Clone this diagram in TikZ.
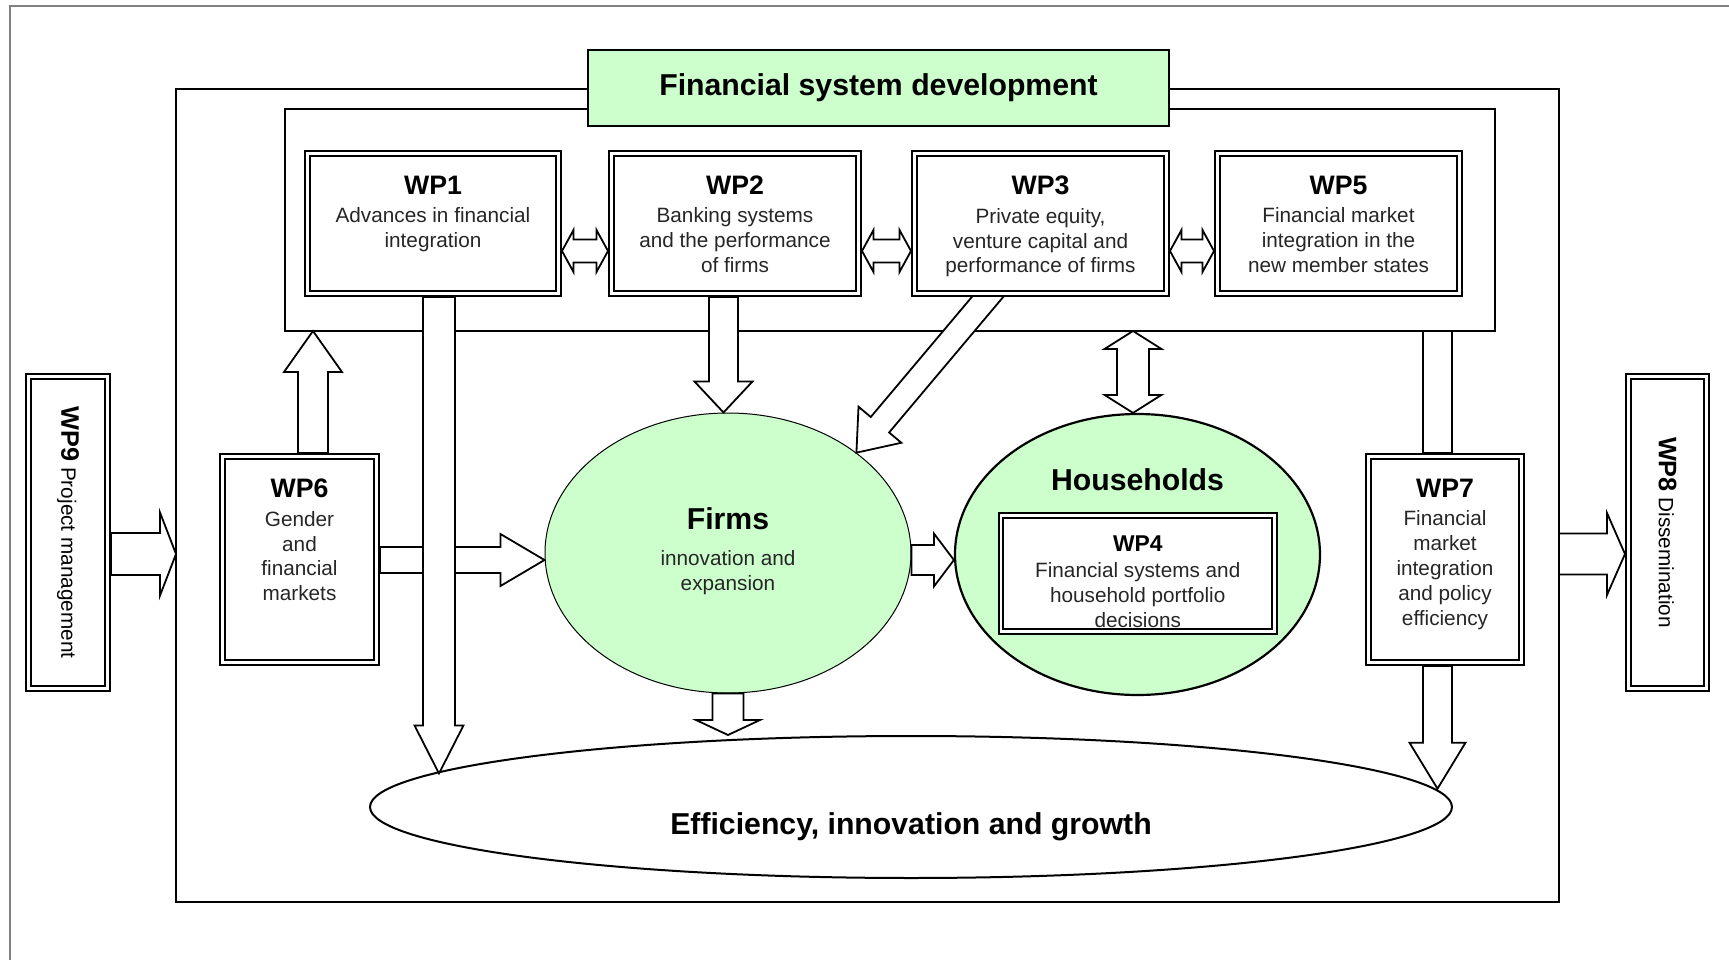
\documentclass[tikz,border=0pt]{standalone}
\usepackage{fontspec}
\setmainfont{Liberation Sans}
\usetikzlibrary{positioning,calc,shapes.geometric}
\definecolor{lightgreen}{HTML}{CCFFCC}

\newcommand{\blockarrow}[5]{%
  \coordinate (ba-a) at (#1);
  \coordinate (ba-b) at (#2);
  \coordinate (ba-c) at ($(ba-b)!#5!(ba-a)$);
  \draw[blockarr] ($(ba-a)!#3!90:(ba-b)$) -- ($(ba-c)!#3!90:(ba-b)$)
    -- ($(ba-c)!#4!90:(ba-b)$) -- (ba-b) -- ($(ba-c)!#4!-90:(ba-b)$)
    -- ($(ba-c)!#3!-90:(ba-b)$) -- ($(ba-a)!#3!-90:(ba-b)$) -- cycle;
}
\newcommand{\dblarrow}[5]{%
  \coordinate (ba-a) at (#1);
  \coordinate (ba-b) at (#2);
  \coordinate (ba-c) at ($(ba-b)!#5!(ba-a)$);
  \coordinate (ba-d) at ($(ba-a)!#5!(ba-b)$);
  \draw[blockarr] (ba-a) -- ($(ba-d)!#4!90:(ba-b)$) -- ($(ba-d)!#3!90:(ba-b)$)
    -- ($(ba-c)!#3!90:(ba-b)$) -- ($(ba-c)!#4!90:(ba-b)$) -- (ba-b)
    -- ($(ba-c)!#4!-90:(ba-b)$) -- ($(ba-c)!#3!-90:(ba-b)$)
    -- ($(ba-d)!#3!-90:(ba-b)$) -- ($(ba-d)!#4!-90:(ba-b)$) -- cycle;
}

\begin{document}
\begin{tikzpicture}[x=0.1mm, y=-0.1mm,
    outerbox/.style={draw, line width=0.2mm, inner sep=0, outer sep=0},
    wpbox/.style={draw, double, double distance=0.27mm, line width=0.2mm, fill=white, inner sep=0, outer sep=0.35mm},
    wptitle/.style={font=\fontsize{7.6}{9}\selectfont\bfseries, inner sep=0},
    wptext/.style={font=\fontsize{5.9}{7.1}\selectfont, text=black!85, align=center, inner sep=0},
    bigtitle/.style={font=\fontsize{8.6}{10}\selectfont\bfseries, inner sep=0},
    sidetext/.style={font=\fontsize{5.9}{7}\selectfont, rotate=-90, inner sep=0},
    blob/.style={ellipse, draw, fill=lightgreen, inner sep=0},
    blockarr/.style={draw, fill=white, line width=0.18mm}]
    \useasboundingbox (0,0) rectangle (1729,960);
    \draw[gray, line width=0.15mm] (10,960) -- (10,6) -- (1729,6);

    \node[outerbox, minimum width=138.3mm, minimum height=81.3mm] (frame) at (867.5,495.5) {};
    \node[outerbox, minimum width=121.05mm, minimum height=22.2mm] (inner) at (889.75,220) {};

    \node[blob, line width=0.1mm, minimum width=36.6mm, minimum height=28mm] (firms) at (728,553) {};
    \node[blob, line width=0.22mm, minimum width=36.5mm, minimum height=28.1mm] (households) at (1137.5,554.5) {};
    \node[ellipse, draw, line width=0.2mm, inner sep=0, minimum width=108.2mm, minimum height=14.2mm] (growth) at (911,807) {};

    \coordinate (wp3out) at ($(firms.38)!1.2!(987.5,297)$);
    \blockarrow{wp3out}{firms.38}{1.2mm}{2.8mm}{3.65mm}

    \node[outerbox, fill=lightgreen, line width=0.22mm, minimum width=58.05mm, minimum height=7.55mm,
        font=\fontsize{8.6}{10}\selectfont\bfseries] (fsd) at (878.5,88) {Financial system development};

    \node[wpbox, minimum width=25.1mm, minimum height=14mm] (wp1) at (433,223.5) {};
    \node[wpbox, minimum width=24.7mm, minimum height=14mm] (wp2) at (735,223.5) {};
    \node[wpbox, minimum width=25.2mm, minimum height=14mm] (wp3) at (1040.5,223.5) {};
    \node[wpbox, minimum width=24.2mm, minimum height=14mm] (wp5) at (1338.5,223.5) {};
    \node[wpbox, minimum width=15.4mm, minimum height=20.6mm] (wp6) at (299.5,559.5) {};
    \node[wpbox, minimum width=15.3mm, minimum height=20.6mm] (wp7) at (1445,559.5) {};
    \node[wpbox, minimum width=7.9mm, minimum height=31.2mm] (wp9) at (68,532.5) {};
    \node[wpbox, minimum width=7.8mm, minimum height=31.2mm] (wp8) at (1667.5,532.5) {};

    \node[wptitle, below=2.5mm of wp1.north] (wp1t) {WP1};
    \node[wptext, below=1.2mm of wp1t.south] {Advances in financial\\integration};
    \node[wptitle, below=2.5mm of wp2.north] (wp2t) {WP2};
    \node[wptext, below=1.2mm of wp2t.south] {Banking systems\\and the performance\\of firms};
    \node[wptitle, below=2.5mm of wp3.north] (wp3t) {WP3};
    \node[wptext, below=1.2mm of wp3t.south] {Private equity,\\venture capital and\\performance of firms};
    \node[wptitle, below=2.5mm of wp5.north] (wp5t) {WP5};
    \node[wptext, below=1.2mm of wp5t.south] {Financial market\\integration in the\\new member states};
    \node[wptitle, below=2.5mm of wp6.north] (wp6t) {WP6};
    \node[wptext, below=1.2mm of wp6t.south] {Gender\\and\\financial\\markets};
    \node[wptitle, below=2.5mm of wp7.north] (wp7t) {WP7};
    \node[wptext, below=1.2mm of wp7t.south] {Financial\\market\\integration\\and policy\\efficiency};
    \node[sidetext] at (wp9.center) {{\fontsize{7.2}{8}\selectfont\bfseries WP9} Project management};
    \node[sidetext] at (wp8.center) {{\fontsize{7.2}{8}\selectfont\bfseries WP8} Dissemination};

    \node[bigtitle, below=9.4mm of firms.north] (firmst) {Firms};
    \node[wptext, below=2mm of firmst.south] {innovation and\\expansion};
    \node[bigtitle, below=5.5mm of households.north] (householdst) {Households};
    \node[bigtitle, below=7.7mm of growth.north] {Efficiency, innovation and growth};

    \node[wpbox, minimum width=27.35mm, minimum height=11.6mm] (wp4) at (1137.75,573.5) {};
    \node[wptitle, font=\fontsize{6.5}{8}\selectfont\bfseries, below=2.3mm of wp4.north] (wp4t) {WP4};
    \node[wptext, below=1mm of wp4t.south] {Financial systems and\\household portfolio\\decisions};

    \dblarrow{wp1.east |- 0,251}{wp2.west |- 0,251}{1.15mm}{2.1mm}{1.15mm}
    \dblarrow{wp2.east |- 0,251}{wp3.west |- 0,251}{1.15mm}{2.1mm}{1.15mm}
    \dblarrow{wp3.east |- 0,251}{wp5.west |- 0,251}{1.15mm}{2.1mm}{1.15mm}
    \blockarrow{wp9.east |- 0,554}{frame.west |- 0,554}{2.1mm}{4.15mm}{1.6mm}
    \blockarrow{frame.east |- 0,554}{wp8.west |- 0,554}{2.05mm}{4.1mm}{1.8mm}
    \blockarrow{wp6.north -| 313,0}{inner.south -| 313,0}{1.5mm}{2.9mm}{4.1mm}
    \blockarrow{wp6.east |- 0,560}{firms.west |- 0,560}{1.3mm}{2.6mm}{4.4mm}
    \blockarrow{wp1.south -| 439,0}{growth.176 -| 439,0}{1.6mm}{2.45mm}{4.8mm}
    \blockarrow{wp2.south -| 723.5,0}{firms.north -| 723.5,0}{1.45mm}{2.9mm}{3.1mm}
    \dblarrow{inner.south -| 1133,0}{households.north -| 1133,0}{1.6mm}{2.85mm}{1.8mm}
    \blockarrow{firms.east |- 0,560}{households.west |- 0,560}{1.5mm}{2.65mm}{2mm}
    \blockarrow{firms.south}{growth.north -| firms.south}{1.55mm}{3.2mm}{1.5mm}
    \draw[blockarr] (inner.south -| 1423,0) rectangle (wp7.north -| 1452,0);
    \blockarrow{wp7.south -| 1437.5,0}{growth.2 -| 1437.5,0}{1.45mm}{2.8mm}{4.6mm}
\end{tikzpicture}
\end{document}
